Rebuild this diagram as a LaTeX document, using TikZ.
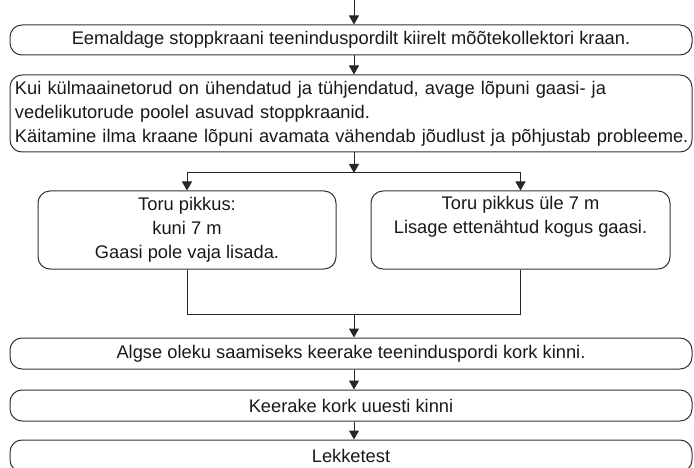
\documentclass[tikz,border=0pt]{standalone}
\usepackage{fontspec}
\setmainfont{Liberation Sans}
\usetikzlibrary{arrows.meta}

\begin{document}
\begin{tikzpicture}[x=1pt, y=-1pt, line width=1pt, font=\fontsize{18.3}{24}\selectfont,
    stepbox/.style={draw=black!80, rounded corners=12pt, minimum width=682pt, inner sep=0pt, text=black!90},
    choicebox/.style={draw=black!80, rounded corners=12pt, minimum width=298pt, minimum height=78pt, inner sep=0pt, align=center, text=black!90},
    arr/.style={draw=black!85, -{Triangle[width=10pt, length=9pt]}}]
    \useasboundingbox (0,0) rectangle (694,468);

    % Main steps
    \node[stepbox, minimum height=30pt] (remove) at (351,40) {Eemaldage stoppkraani teeninduspordilt kiirelt mõõtekollektori kraan.};
    \node[stepbox, minimum height=77pt, text width=672pt, align=left] (open) at (351,113.5)
        {Kui külmaainetorud on ühendatud ja tühjendatud, avage lõpuni gaasi- ja\\
         vedelikutorude poolel asuvad stoppkraanid.\\
         \mbox{Käitamine ilma kraane lõpuni avamata vähendab jõudlust ja põhjustab probleeme.}};

    % Pipe length branches
    \node[choicebox] (short) at (187,230) {Toru pikkus:\\kuni 7 m\\Gaasi pole vaja lisada.};
    \node[choicebox, minimum width=299pt] (long) at (520.5,230) {Toru pikkus üle 7 m\\Lisage ettenähtud kogus gaasi.\\\strut};

    % Closing steps
    \node[stepbox, minimum height=31pt] (cap) at (351,353.5) {Algse oleku saamiseks keerake teeninduspordi kork kinni.};
    \node[stepbox, minimum height=31pt] (recap) at (351,405.5) {Keerake kork uuesti kinni};
    \node[stepbox, minimum height=32pt] (leak) at (351,456) {Lekketest};

    % Branch points
    \coordinate (top) at (354,0);
    \coordinate (split) at (354,173);
    \coordinate (join) at (354,314);

    % Connections
    \draw[arr] (top) -- (top |- remove.north);
    \draw[arr] (top |- remove.south) -- (top |- open.north);
    \draw[arr] (top |- open.south) -- (split);
    \draw[arr] (split) -| (short.north);
    \draw[arr] (split) -| (long.north);
    \draw[draw=black!85] (short.south) |- (join);
    \draw[draw=black!85] (long.south) |- (join);
    \draw[arr] (join) -- (join |- cap.north);
    \draw[arr] (join |- cap.south) -- (join |- recap.north);
    \draw[arr] (join |- recap.south) -- (join |- leak.north);
\end{tikzpicture}
\end{document}
